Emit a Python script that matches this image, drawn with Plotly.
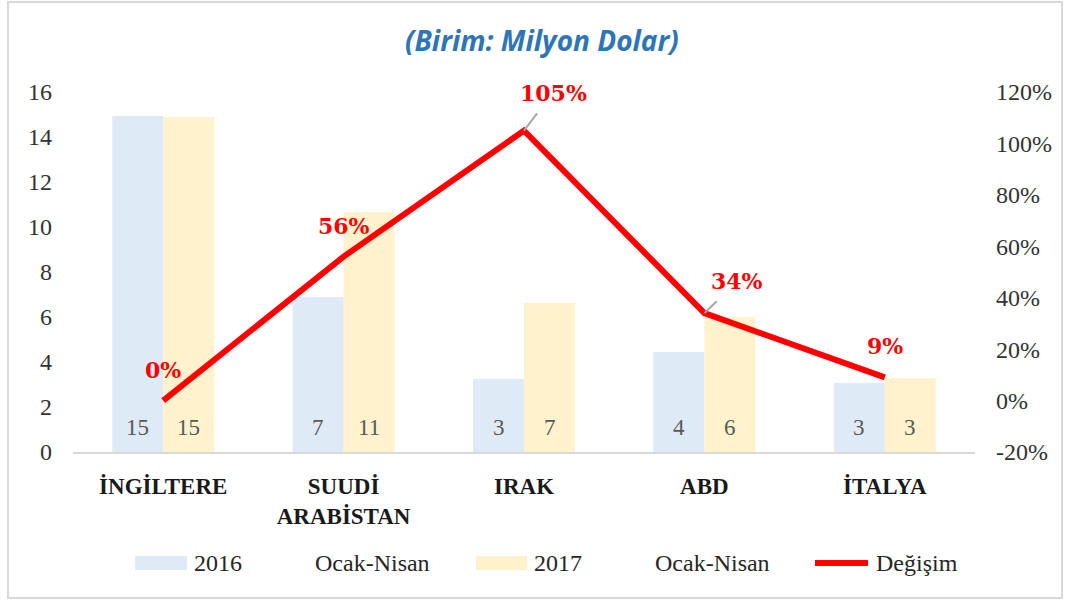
import plotly.graph_objects as go

categories = ["İNGİLTERE", "SUUDİ<br>ARABİSTAN", "IRAK", "ABD", "İTALYA"]
values_2016 = [14.93, 6.89, 3.24, 4.44, 3.07]
values_2017 = [14.89, 10.67, 6.62, 6.0, 3.29]
change = [0.0, 0.56, 1.05, 0.34, 0.09]
series_names = ["2016\u00a0\u00a0\u00a0\u00a0\u00a0\u00a0\u00a0\u00a0\u00a0Ocak-Nisan",
                "2017\u00a0\u00a0\u00a0\u00a0\u00a0\u00a0\u00a0\u00a0\u00a0Ocak-Nisan",
                "Değişim"]
left_ticks = [0, 2, 4, 6, 8, 10, 12, 14, 16]
right_ticks = [-0.2, 0, 0.2, 0.4, 0.6, 0.8, 1.0, 1.2]
right_ticktext = [f"{v*100:.0f}%" for v in right_ticks]

C2016 = "#DEEAF6"
C2017 = "#FFF2CC"
CLINE = "#FF0000"
SERIF = "Liberation Serif"

W, H = 1068, 602
L, R, T, B = 73, 975, 92, 452


def px2x(px):
    return (px - L) / (R - L)


def py2y(py):
    return (B - py) / (B - T)


fig = go.Figure()
fig.add_trace(go.Bar(x=categories, y=values_2016, name=series_names[0],
                     marker=dict(color=C2016, line=dict(width=0)), hoverinfo="y"))
fig.add_trace(go.Bar(x=categories, y=values_2017, name=series_names[1],
                     marker=dict(color=C2017, line=dict(width=0)), hoverinfo="y"))
fig.add_trace(go.Scatter(x=categories, y=change, name=series_names[2], yaxis="y2",
                         mode="lines", line=dict(color=CLINE, width=6)))

annotations = []
# bar value labels near the bottom of each bar
for vals, shift in ((values_2016, -25.5), (values_2017, 25.5)):
    for c, v in zip(categories, vals):
        annotations.append(dict(x=c, y=0, xref="x", yref="y", text=f"{v:.0f}",
                                showarrow=False, xshift=shift, yshift=25,
                                font=dict(family=SERIF, size=23, color="#595959")))

# change labels
offsets = [(0, -31, False), (0, -31, False), (29, -38, True), (33, -32, True), (0, -31, False)]
for c, v, (ax, ay, arrow) in zip(categories, change, offsets):
    a = dict(x=c, y=v, xref="x", yref="y2", text=f"{v*100:.0f}%",
             font=dict(family="DejaVu Serif", size=22, color=CLINE, weight="bold"))
    if arrow:
        a.update(showarrow=True, ax=ax, ay=ay, arrowhead=0, arrowwidth=2,
                 arrowcolor="#A6A6A6", standoff=0, startstandoff=8)
    else:
        a.update(showarrow=False, yshift=-ay)
    annotations.append(a)

# title
annotations.append(dict(x=px2x(542), y=py2y(40), xref="paper", yref="paper",
                        text="<b><i>(Birim: Milyon Dolar)</i></b>", showarrow=False,
                        font=dict(family="Open Sans", size=28, color="#2E75B6"),
                        xanchor="center", yanchor="middle"))

# manual legend
shapes = []
ly = 563
legend_font = dict(family=SERIF, size=24, color="#262626")
shapes.append(dict(type="rect", xref="paper", yref="paper", x0=px2x(135), x1=px2x(187),
                   y0=py2y(570), y1=py2y(556), fillcolor=C2016, line=dict(width=0)))
shapes.append(dict(type="rect", xref="paper", yref="paper", x0=px2x(476), x1=px2x(527),
                   y0=py2y(570), y1=py2y(556), fillcolor=C2017, line=dict(width=0)))
shapes.append(dict(type="line", xref="paper", yref="paper", x0=px2x(815), x1=px2x(868),
                   y0=py2y(ly), y1=py2y(ly), line=dict(color=CLINE, width=6)))
for txt, xl in (("2016", 192), ("Ocak-Nisan", 313), ("2017", 532), ("Ocak-Nisan", 653),
                ("Değişim", 874)):
    annotations.append(dict(x=px2x(xl), y=py2y(ly), xref="paper", yref="paper", text=txt,
                            showarrow=False, xanchor="left", yanchor="middle",
                            font=legend_font))

# outer border
shapes.append(dict(type="rect", xref="paper", yref="paper", x0=px2x(8), x1=px2x(1062),
                   y0=py2y(598), y1=py2y(2), line=dict(color="#D9D9D9", width=2),
                   fillcolor="rgba(0,0,0,0)", layer="below"))

fig.update_layout(
    width=W, height=H,
    margin=dict(l=L, r=W - R, t=T, b=H - B),
    plot_bgcolor="white", paper_bgcolor="white",
    barmode="group", bargap=0.435, bargroupgap=0,
    showlegend=False,
    annotations=annotations, shapes=shapes,
    xaxis=dict(type="category", showgrid=False, zeroline=False, showline=True,
               linecolor="#D9D9D9", linewidth=2, ticks="", ticklabelstandoff=12,
               tickfont=dict(family=SERIF, size=23, color="#1a1a1a", weight="bold")),
    yaxis=dict(range=[0, 16], tickvals=left_ticks, showgrid=False, zeroline=False,
               showline=False, ticks="", ticklabelstandoff=20,
               tickfont=dict(family=SERIF, size=24, color="#333333")),
    yaxis2=dict(range=[-0.2, 1.2], tickvals=right_ticks, ticktext=right_ticktext,
                overlaying="y", side="right", showgrid=False, zeroline=False,
                showline=False, ticks="", ticklabelstandoff=20,
                tickfont=dict(family=SERIF, size=24, color="#333333")),
)

fig.write_html("out.html", config={"displayModeBar": False},
               post_script="document.body.style.margin='0';document.body.style.overflow='hidden';")
